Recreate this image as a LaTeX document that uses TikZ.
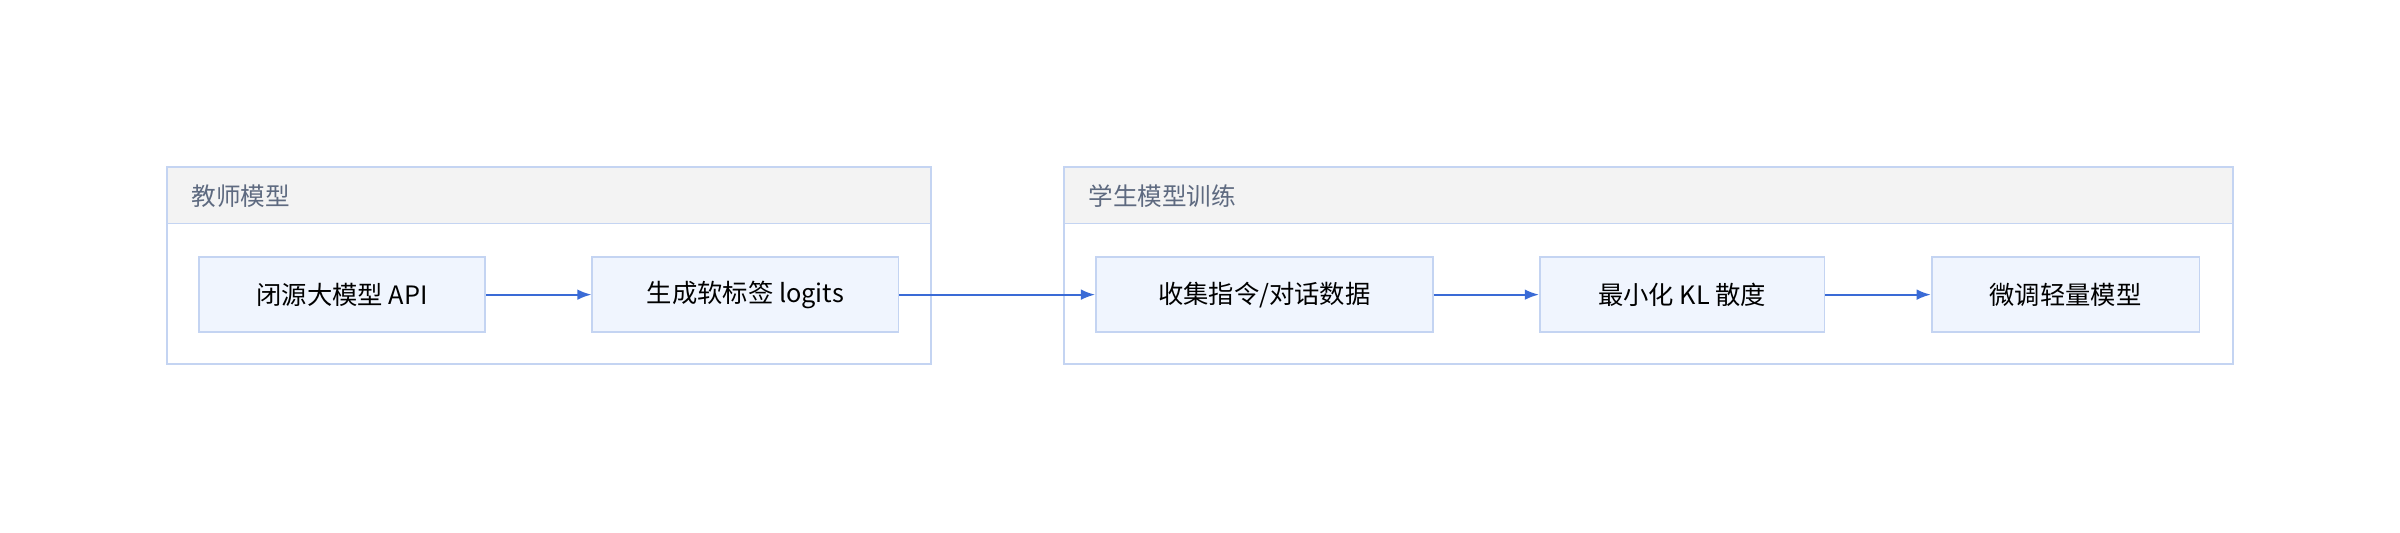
\documentclass[tikz,border=0pt]{standalone}
\usepackage{fontspec}
\setmainfont{Noto Sans CJK SC}
\usetikzlibrary{arrows.meta,positioning}
\definecolor{boxfill}{HTML}{F0F5FE}
\definecolor{boxline}{HTML}{C4D4F2}
\definecolor{headfill}{HTML}{F3F3F3}
\definecolor{headtext}{HTML}{5E6A80}
\definecolor{arrowcol}{HTML}{3A6BD6}
\tikzset{
  stage/.style={draw=boxline, fill=boxfill, line width=0.5pt, minimum height=0.75cm,
    inner sep=0pt, font=\fontsize{7.2}{8}\selectfont},
  group/.style={draw=boxline, line width=0.5pt},
  head/.style={draw=boxline, fill=headfill, line width=0.5pt},
  title/.style={anchor=west, text=headtext, font=\fontsize{7}{8}\selectfont},
  flow/.style={-{Latex[length=4pt,width=3pt]}, draw=arrowcol, line width=0.5pt},
}
\begin{document}
\begin{tikzpicture}[x=0.0153cm, y=-0.0153cm]
  \useasboundingbox (0,0) rectangle (1568,348);
  % groups
  \draw[group] (109,109) rectangle (608,238);
  \draw[head] (109,109) rectangle (608,146);
  \node[title] (teacher) at (117,128) {教师模型};
  \draw[group] (695,109) rectangle (1459,238);
  \draw[head] (695,109) rectangle (1459,146);
  \node[title] (student) at (703,128) {学生模型训练};
  % stages
  \node[stage, minimum width=187*0.0153cm] (api) at (223.5,192.5) {闭源大模型 API};
  \node[stage, minimum width=200*0.0153cm] (soft) at (487,192.5) {生成软标签 logits};
  \node[stage, minimum width=220*0.0153cm] (data) at (826,192.5) {收集指令/对话数据};
  \node[stage, minimum width=186*0.0153cm] (kl) at (1099,192.5) {最小化 KL 散度};
  \node[stage, minimum width=175*0.0153cm] (tune) at (1349.5,192.5) {微调轻量模型};
  % arrows
  \draw[flow] (api) -- (soft);
  \draw[flow] (soft) -- (data);
  \draw[flow] (data) -- (kl);
  \draw[flow] (kl) -- (tune);
\end{tikzpicture}
\end{document}
